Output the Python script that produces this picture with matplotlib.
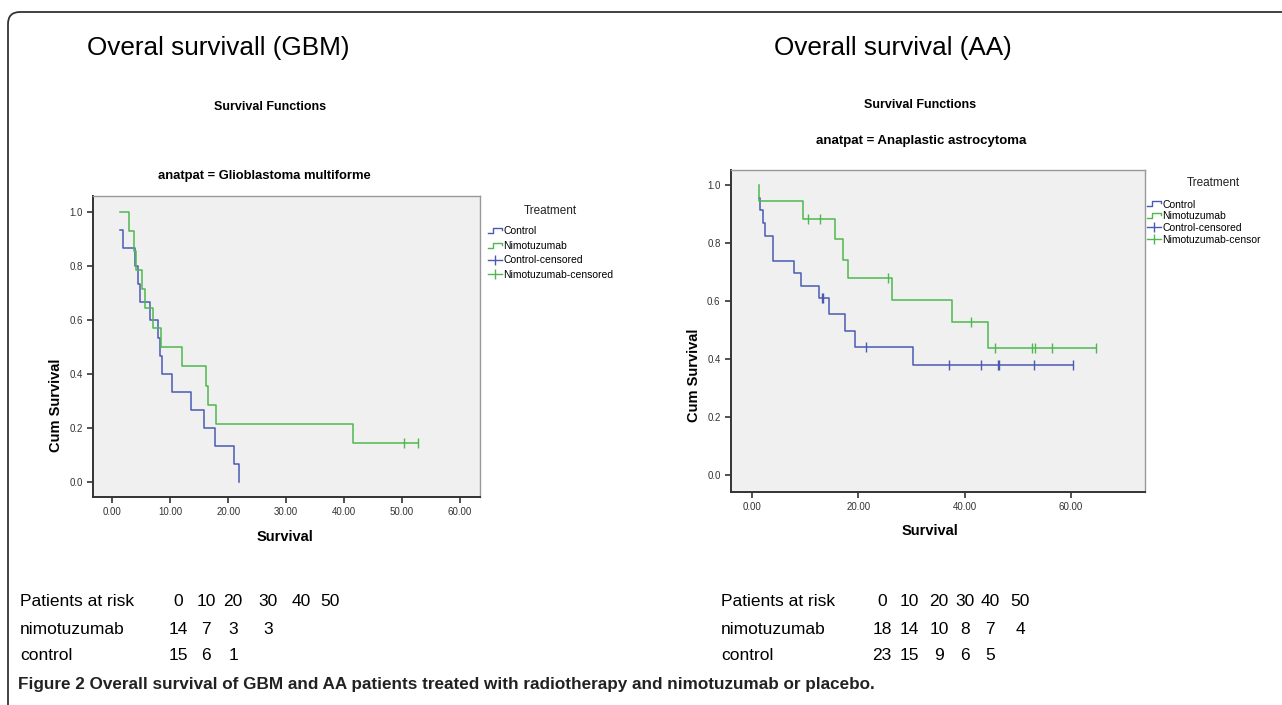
import numpy as np
import matplotlib
matplotlib.use("Agg")
import matplotlib.pyplot as plt
from matplotlib.lines import Line2D
from matplotlib.legend_handler import HandlerBase
from matplotlib.patches import FancyBboxPatch
from matplotlib import font_manager

# ---- data ----
gbm_ctrl_t = [1.33, 1.79, 3.92, 4.49, 4.78, 6.51, 7.94, 8.23, 8.51, 10.24, 13.58, 15.82, 17.72, 21.0, 21.92]
gbm_ctrl_s = [0.933, 0.867, 0.800, 0.733, 0.667, 0.600, 0.533, 0.467, 0.400, 0.333, 0.267, 0.200, 0.133, 0.067, 0.0]
gbm_ctrl_cens = []

gbm_nimo_t = [1.33, 2.94, 3.80, 4.09, 5.07, 5.64, 7.08, 8.40, 12.08, 16.11, 16.46, 17.90, 41.6]
gbm_nimo_s = [1.0, 0.929, 0.857, 0.786, 0.714, 0.643, 0.571, 0.500, 0.429, 0.357, 0.286, 0.214, 0.143]
gbm_nimo_cens = [50.3, 52.8]

aa_ctrl_t = [1.43, 1.56, 2.06, 2.50, 4.07, 8.01, 9.20, 12.59, 14.53, 17.54, 19.48, 30.38]
aa_ctrl_s = [0.957, 0.913, 0.870, 0.826, 0.739, 0.696, 0.652, 0.609, 0.554, 0.497, 0.441, 0.378]
aa_ctrl_cens = [13.15, 13.47, 21.48, 37.15, 43.1, 46.23, 46.55, 53.06, 60.46]

aa_nimo_t = [1.43, 1.43, 9.58, 15.66, 17.22, 18.16, 26.31, 37.59, 44.48]
aa_nimo_s = [1.0, 0.944, 0.883, 0.814, 0.743, 0.679, 0.603, 0.528, 0.439]
aa_nimo_cens = [10.52, 12.84, 25.68, 41.16, 45.73, 52.63, 53.26, 56.39, 64.72]

risk_times = [0, 10, 20, 30, 40, 50]
gbm_risk_nimo = [14, 7, 3, 3]
gbm_risk_ctrl = [15, 6, 1]
aa_risk_nimo = [18, 14, 10, 8, 7, 4]
aa_risk_ctrl = [23, 15, 9, 6, 5]

BLUE = "#4a5ab2"
GREEN = "#4db84d"
W, H = 1282, 705

names = {f.name for f in font_manager.fontManager.ttflist}
NARROW = "Liberation Sans Narrow" if "Liberation Sans Narrow" in names else "Liberation Sans"
plt.rcParams["font.family"] = ["Liberation Sans", "DejaVu Sans"]


def fx(px):
    return px / W


def fy(py):
    return 1 - py / H


class HandlerStep(HandlerBase):
    def create_artists(self, legend, orig, xd, yd, width, height, fontsize, trans):
        x0 = -xd
        xs = [x0, x0 + width * 0.4, x0 + width * 0.4, x0 + width, x0 + width]
        ys = [-yd + height * 0.15, -yd + height * 0.15, -yd + height * 0.85,
              -yd + height * 0.85, -yd + height * 0.6]
        ln = Line2D(xs, ys, color=orig.get_color(), lw=1.0, transform=trans)
        return [ln]


def km(ax, t, s, cens, color):
    t = list(t)
    s = list(s)
    end = max(cens) if cens else t[-1]
    ax.step(t + [end], s + [s[-1]], where="post", color=color, lw=1.1)
    if cens:
        idx = np.searchsorted(t, cens, side="right") - 1
        ax.plot(cens, np.array(s)[idx], ls="none", marker="|", ms=7, mew=1.0, color=color)


def style(ax, xticks, xlim, ylim):
    ax.set_facecolor("#f0f0f0")
    ax.set_xlim(*xlim)
    ax.set_ylim(*ylim)
    ax.set_xticks(xticks)
    ax.set_xticklabels([f"{v:.2f}" for v in xticks])
    ax.set_yticks([0, 0.2, 0.4, 0.6, 0.8, 1.0])
    ax.set_yticklabels([f"{v:.1f}" for v in [0, 0.2, 0.4, 0.6, 0.8, 1.0]])
    for side in ["left", "bottom"]:
        ax.spines[side].set_color("#333333")
        ax.spines[side].set_linewidth(1.4)
    for side in ["top", "right"]:
        ax.spines[side].set_color("#999999")
        ax.spines[side].set_linewidth(1.0)
    ax.tick_params(direction="out", length=4, width=1.2, colors="#333333",
                   labelsize=7, labelcolor="#333333")
    for lab in ax.get_xticklabels() + ax.get_yticklabels():
        lab.set_family(NARROW)


def legend(ax, anchor, title_xy, spacing, last_label):
    handles = [Line2D([], [], color=BLUE), Line2D([], [], color=GREEN),
               Line2D([], [], color=BLUE, marker="|", ms=7, lw=1.0),
               Line2D([], [], color=GREEN, marker="|", ms=7, lw=1.0)]
    labels = ["Control", "Nimotuzumab", "Control-censored", last_label]
    ax.legend(handles, labels, loc="upper left", bbox_to_anchor=anchor,
              bbox_transform=ax.figure.transFigure, frameon=False,
              numpoints=1, handlelength=1.3, handletextpad=0.15,
              labelspacing=spacing, borderpad=0, borderaxespad=0,
              prop={"family": NARROW, "size": 7.5},
              handler_map={handles[0]: HandlerStep(), handles[1]: HandlerStep()})
    ax.figure.text(fx(title_xy[0]), fy(title_xy[1]), "Treatment", fontsize=8.5,
                   family=NARROW, ha="center", va="center", color="#222222")


fig = plt.figure(figsize=(W / 100, H / 100), dpi=100)

box = FancyBboxPatch((8, -20), 1320, H - 12 + 20, boxstyle="round,pad=0,rounding_size=12",
                     transform=None, fill=False, ec="#333333", lw=1.3)
fig.patches.append(box)

# ---- GBM panel ----
ax1 = fig.add_axes([fx(93.3), fy(497), (480 - 93.3) / W, (497 - 196) / H])
km(ax1, gbm_ctrl_t, gbm_ctrl_s, gbm_ctrl_cens, BLUE)
km(ax1, gbm_nimo_t, gbm_nimo_s, gbm_nimo_cens, GREEN)
style(ax1, [0, 10, 20, 30, 40, 50, 60], (-3.28, 63.45), (-0.0556, 1.059))
ax1.set_ylabel("Cum Survival", fontsize=10.5, fontweight="bold", family=NARROW)
ax1.yaxis.set_label_coords(-0.078, 0.306)
ax1.set_xlabel("Survival", fontsize=10.5, fontweight="bold", family=NARROW)
ax1.xaxis.set_label_coords(0.496, -0.108)
legend(ax1, (fx(488), fy(226.5)), (550, 211), 0.42, "Nimotuzumab-censored")

fig.text(fx(87), fy(48), "Overal survivall (GBM)", fontsize=18.8, va="center", ha="left")
fig.text(fx(270), fy(107), "Survival Functions", fontsize=9, fontweight="bold",
         family=NARROW, ha="center", va="center")
fig.text(fx(264), fy(176), "anatpat = Glioblastoma multiforme", fontsize=9.4, fontweight="bold",
         family=NARROW, ha="center", va="center")

# ---- AA panel ----
ax2 = fig.add_axes([fx(731), fy(491.7), (1145 - 731) / W, (491.7 - 170) / H])
km(ax2, aa_ctrl_t, aa_ctrl_s, aa_ctrl_cens, BLUE)
km(ax2, aa_nimo_t, aa_nimo_s, aa_nimo_cens, GREEN)
style(ax2, [0, 20, 40, 60], (-3.89, 73.9), (-0.0576, 1.052))
ax2.set_ylabel("Cum Survival", fontsize=10.5, fontweight="bold", family=NARROW)
ax2.yaxis.set_label_coords(-0.072, 0.363)
ax2.set_xlabel("Survival", fontsize=10.5, fontweight="bold", family=NARROW)
ax2.xaxis.set_label_coords(0.48, -0.10)
legend(ax2, (fx(1147), fy(199.5)), (1213, 183), 0.17, "Nimotuzumab-censor")

fig.text(fx(893), fy(48), "Overall survival (AA)", fontsize=18.8, va="center", ha="center")
fig.text(fx(920), fy(105), "Survival Functions", fontsize=9, fontweight="bold",
         family=NARROW, ha="center", va="center")
fig.text(fx(921), fy(141), "anatpat = Anaplastic astrocytoma", fontsize=9.5, fontweight="bold",
         family=NARROW, ha="center", va="center")

# ---- patients at risk tables ----
rows_y = [602, 630, 656]
tsize = 12.5


def risk_table(x_label, cols, nimo, ctrl):
    fig.text(fx(x_label), fy(rows_y[0]), "Patients at risk", fontsize=tsize, va="center")
    fig.text(fx(x_label), fy(rows_y[1]), "nimotuzumab", fontsize=tsize, va="center")
    fig.text(fx(x_label), fy(rows_y[2]), "control", fontsize=tsize, va="center")
    for row, vals in zip(rows_y, [risk_times, nimo, ctrl]):
        for cx, v in zip(cols, vals):
            fig.text(fx(cx), fy(row), str(v), fontsize=tsize, va="center", ha="center")


risk_table(20, [178, 206, 233, 268, 301, 330], gbm_risk_nimo, gbm_risk_ctrl)
risk_table(721, [882, 909, 939, 965, 990, 1020], aa_risk_nimo, aa_risk_ctrl)

fig.text(fx(18), fy(684), "Figure 2 Overall survival of GBM and AA patients treated with "
         "radiotherapy and nimotuzumab or placebo.", fontsize=12.3, fontweight="bold",
         family=NARROW, va="center", color="#222222")

fig.savefig("out.png", dpi=100)
